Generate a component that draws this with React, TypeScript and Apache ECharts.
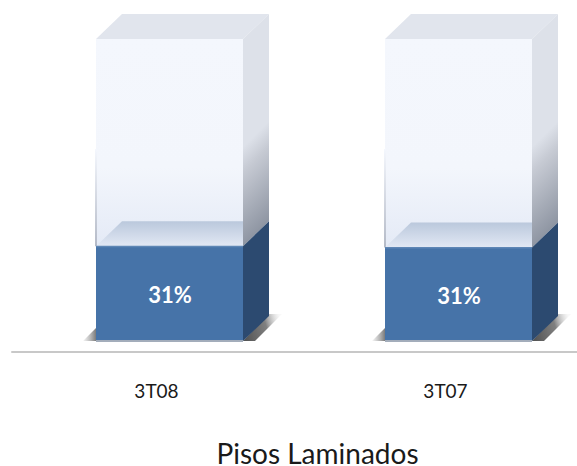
import React, { useEffect, useRef } from "react";
import * as echarts from "echarts";

const categories = ["3T08", "3T07"];
const filledValues = [31.4, 31];
const valueLabels = ["31%", "31%"];
const totalValue = 100;
const chartTitle = "Pisos Laminados";

const HALF = 73.5;
const SHIFT = 13;
const DX = 26;
const DY = 25;

const lin = (x: number, y: number, x2: number, y2: number, stops: [number, string][], global = false) => ({
  type: "linear", x, y, x2, y2, global,
  colorStops: stops.map(([offset, color]) => ({ offset, color })),
});

function renderBar(params: any, api: any) {
  const idx = api.value(0);
  const base = api.coord([idx, 0]);
  const fill = api.coord([idx, api.value(1)]);
  const full = api.coord([idx, totalValue]);
  const cx = base[0] + SHIFT;
  const l = cx - HALF;
  const r = cx + HALF;
  const yB = base[1];
  const yF = fill[1];
  const yT = full[1];
  const poly = (points: number[][], style: any) => ({ type: "polygon", shape: { points }, style, silent: true });
  const sideStartY = yT + 108;
  const sx = r;
  const t = (yF - sideStartY) / 2;
  return {
    type: "group",
    children: [
      poly([[l - 13, yB], [l, yB - 13], [l, yB]], { fill: lin(0, 0, 1, 0, [[0, "rgba(160,160,160,0.1)"], [1, "#7a7a7a"]]) }),
      poly([[r, yB], [r + DX, yB - DY - 2], [r + DX + 13, yB - DY - 2], [r + 12, yB]], {
        fill: lin(0, 0.6, 1, 0.4, [[0, "#555555"], [0.6, "#808080"], [1, "rgba(220,220,220,0.2)"]]),
      }),
      // glass: top, side, front
      poly([[l, yT], [l + DX, yT - DY], [r + DX, yT - DY], [r, yT]], { fill: "#e1e5ed" }),
      poly([[r, yT], [r + DX, yT - DY], [r + DX, yF - DY], [r, yF]], {
        fill: lin(sx, sideStartY, sx + t, sideStartY + t, [[0, "#dde1e9"], [0.25, "#c6cad3"], [1, "#8f96a3"]], true),
      }),
      poly([[l, yT], [r, yT], [r, yF], [l, yF]], {
        fill: lin(0, 0, 0, 1, [[0, "#f4f7fd"], [0.62, "#f3f6fc"], [1, "#e4eaf6"]]),
      }),
      poly([[l - 1, yT + 110], [l + 1, yT + 110], [l + 1, yF], [l - 1, yF]], {
        fill: lin(0, 0, 0, 1, [[0, "#f4f7fd"], [1, "#b4bac7"]]),
      }),
      // inner face of the level
      poly([[l, yF], [l + DX, yF - DY], [r, yF - DY], [r, yF]], {
        fill: lin(0, 0, 0, 1, [[0, "#bac8dc"], [1, "#e2e8f4"]]),
      }),
      // filled: side and front
      poly([[r, yF], [r + DX, yF - DY], [r + DX, yB - DY], [r, yB]], { fill: "#2c4a70" }),
      poly([[l, yF], [r, yF], [r, yB], [l, yB]], { fill: "#4673a8" }),
      poly([[l, yF - 0.5], [r, yF - 0.5], [r, yF + 1], [l, yF + 1]], { fill: "#5e86b5" }),
      poly([[l, yB - 1], [r, yB - 1], [r, yB + 1], [l, yB + 1]], { fill: "#a3adbb" }),
      {
        type: "text",
        silent: true,
        style: {
          x: cx + 0.5,
          y: (yF + yB) / 2 + 1,
          text: valueLabels[idx],
          fill: "#ffffff",
          font: "bold 22px Lato, sans-serif",
          align: "center",
          verticalAlign: "middle",
        },
      },
    ],
  };
}

export default function App() {
  const ref = useRef<HTMLDivElement>(null);
  useEffect(() => {
    const chart = echarts.init(ref.current!, null, { renderer: "svg" });
    chart.setOption({
      animation: false,
      backgroundColor: "#ffffff",
      title: {
        text: chartTitle,
        left: 317.5,
        top: 441,
        padding: 0,
        textAlign: "center",
        textStyle: { fontFamily: "Lato, sans-serif", fontSize: 28, lineHeight: 24, fontWeight: "normal", color: "#1a1a1a" },
      },
      grid: { left: 12, width: 578, top: 39, bottom: 125, outerBoundsMode: "none" },
      xAxis: {
        type: "category",
        data: categories,
        offset: 11,
        axisLine: { show: true, onZero: false, lineStyle: { color: "#c8c8c8", width: 2 } },
        axisTick: { show: false },
        axisLabel: { margin: 29, fontFamily: "Lato, sans-serif", fontSize: 19, color: "#1a1a1a" },
      },
      yAxis: { type: "value", min: 0, max: totalValue, show: false },
      series: [
        {
          type: "custom",
          renderItem: renderBar,
          clip: false,
          encode: { x: 0, y: 1 },
          data: categories.map((_, i) => [i, filledValues[i]]),
        },
      ],
    });
    return () => chart.dispose();
  }, []);
  return <div ref={ref} style={{ position: "fixed", left: 0, top: 0, width: 577, height: 466 }} />;
}
